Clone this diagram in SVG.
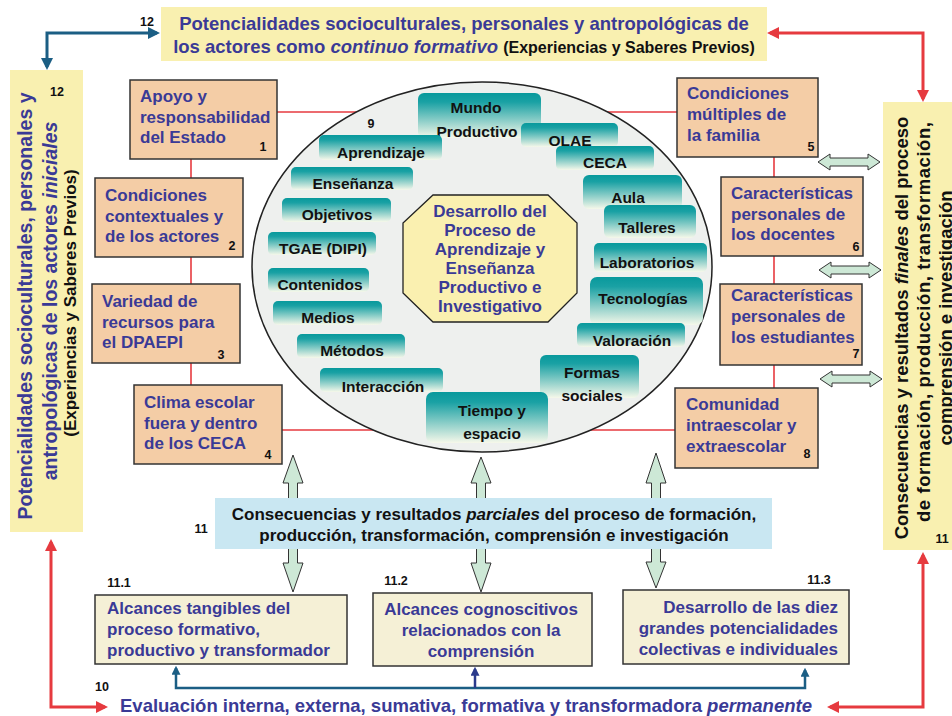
<svg xmlns="http://www.w3.org/2000/svg" width="952" height="716" viewBox="0 0 952 716">
<defs>
<linearGradient id="teal" x1="0" y1="0" x2="0" y2="1">
<stop offset="0" stop-color="#08999c"/>
<stop offset="0.2" stop-color="#1aa1a4"/>
<stop offset="1" stop-color="#f6f8ea"/>
</linearGradient>
<marker id="mRed" viewBox="0 0 12 12" refX="9" refY="6" markerWidth="12" markerHeight="12" markerUnits="userSpaceOnUse" orient="auto-start-reverse"><path d="M0,0 L12,6 L0,12 z" fill="#e63a3f"/></marker>
<marker id="mBlue" viewBox="0 0 12 12" refX="9" refY="6" markerWidth="12" markerHeight="12" markerUnits="userSpaceOnUse" orient="auto-start-reverse"><path d="M0,0 L12,6 L0,12 z" fill="#1b5e84"/></marker>
<marker id="mBlueS" viewBox="0 0 12 12" refX="9" refY="6" markerWidth="9" markerHeight="9" markerUnits="userSpaceOnUse" orient="auto-start-reverse"><path d="M0,0 L12,6 L0,12 z" fill="#1b5e84"/></marker>
<marker id="mNavyS" viewBox="0 0 12 12" refX="9" refY="6" markerWidth="9" markerHeight="9" markerUnits="userSpaceOnUse" orient="auto-start-reverse"><path d="M0,0 L12,6 L0,12 z" fill="#2b3a8c"/></marker>
</defs>
<style>
text{font-family:"Liberation Sans",Arial,Helvetica,sans-serif;font-weight:bold}
.yl{fill:#f9f0b0}
.pk{fill:#f4cda6;stroke:#333;stroke-width:1.5}
.cr{fill:#f5f0d6;stroke:#333;stroke-width:1.5}
.bt{font-size:17px;fill:#3a3a96}
.tb{fill:url(#teal)}
.tl{font-size:15.5px;fill:#111;text-anchor:middle}
.num{font-size:12.5px;fill:#111}
.red{fill:none;stroke:#e63a3f;stroke-width:3}
.rl{fill:none;stroke:#e63a3f;stroke-width:1.6}
.blu{fill:none;stroke:#1b5e84;stroke-width:3}
.blu2{fill:none;stroke:#1b5e84;stroke-width:2.5}
.nav{fill:none;stroke:#2b3a8c;stroke-width:2.5}
.ga{fill:#cde8d6;stroke:#333;stroke-width:1}
</style>
<rect width="952" height="716" fill="#ffffff"/>

<!-- thin red links behind ellipse -->
<g id="links">
<line class="rl" x1="277" y1="112" x2="677" y2="112"/>
<line class="rl" x1="282" y1="430" x2="675" y2="430"/>
<line class="rl" x1="191" y1="159" x2="191" y2="385"/>
<line class="rl" x1="774" y1="157" x2="774" y2="388"/>
</g>

<!-- green double arrows (under blue box) -->
<g id="green-arrows">
<polygon class="ga" points="293,455 303,483 297.5,483 297.5,563 303,563 293,592 283,563 288.5,563 288.5,483 283,483"/>
<polygon class="ga" points="481,457 491,483 485.5,483 485.5,563 491,563 481,592 471,563 476.5,563 476.5,483 471,483"/>
<polygon class="ga" points="656,453 666,483 660.5,483 660.5,562 666,562 656,588 646,562 651.5,562 651.5,483 646,483"/>
<polygon class="ga" points="818,162 830,154 830,158 868,158 868,154 880,162 868,170 868,166 830,166 830,170"/>
<polygon class="ga" points="819,270 831,262 831,266 869,266 869,262 881,270 869,278 869,274 831,274 831,278"/>
<polygon class="ga" points="820,379 832,371 832,375 870,375 870,371 882,379 870,387 870,383 832,383 832,387"/>
</g>

<!-- connectors -->
<g id="connectors">
<path class="blu" d="M47,67 L47,33 L157,33" marker-start="url(#mBlue)" marker-end="url(#mBlue)"/>
<path class="red" d="M770,33 L923,33 L923,99" marker-start="url(#mRed)" marker-end="url(#mRed)"/>
<path class="red" d="M923,555 L923,707 L830,707" marker-start="url(#mRed)" marker-end="url(#mRed)"/>
<path class="red" d="M51,542 L51,707 L105,707" marker-start="url(#mRed)" marker-end="url(#mRed)"/>
<path class="blu2" d="M176,668 L176,688 L805,688 L805,670" marker-start="url(#mBlueS)" marker-end="url(#mBlueS)"/>
<path class="nav" d="M475,688 L475,669" marker-end="url(#mNavyS)"/>
</g>

<!-- top box -->
<g id="top-box">
<rect class="yl" x="161" y="7" width="606" height="54"/>
<text x="464" y="30" font-size="18.5" fill="#3a3a96" text-anchor="middle">Potencialidades socioculturales, personales y antropológicas de</text>
<text x="464" y="53" font-size="18.5" fill="#3a3a96" text-anchor="middle">los actores como <tspan font-style="italic">continuo formativo</tspan> <tspan fill="#111" font-size="16">(Experiencias y Saberes Previos)</tspan></text>
<text class="num" x="147" y="26" text-anchor="middle">12</text>
</g>

<!-- left vertical box -->
<g id="left-box">
<rect class="yl" x="10" y="70" width="73" height="462"/>
<text transform="translate(32,306) rotate(-90)" font-size="19.5" fill="#3a3a96" text-anchor="middle">Potencialidades socioculturales, personales y</text>
<text transform="translate(57,301) rotate(-90)" font-size="19.5" fill="#3a3a96" text-anchor="middle">antropológicas de los actores <tspan font-style="italic">iniciales</tspan></text>
<text transform="translate(76,303) rotate(-90)" font-size="17" fill="#111" text-anchor="middle">(Experiencias y Saberes Previos)</text>
<text class="num" x="57" y="96" text-anchor="middle">12</text>
</g>

<!-- right vertical box -->
<g id="right-box">
<rect class="yl" x="883" y="102" width="75" height="448"/>
<text transform="translate(908,328) rotate(-90)" font-size="18.5" fill="#111" text-anchor="middle">Consecuencias y resultados <tspan font-style="italic">finales</tspan> del proceso</text>
<text transform="translate(930,322) rotate(-90)" font-size="18.5" fill="#111" text-anchor="middle" textLength="400" lengthAdjust="spacing">de formación, producción, transformación,</text>
<text transform="translate(952,318) rotate(-90)" font-size="18.5" fill="#111" text-anchor="middle">comprensión e investigación</text>
<text class="num" x="942" y="543" text-anchor="middle">11</text>
</g>

<!-- central ellipse -->
<g id="ellipse">
<ellipse cx="482" cy="267" rx="230" ry="185" fill="#eef0ee" stroke="#222" stroke-width="1.5"/>
<text class="num" x="371" y="128" text-anchor="middle">9</text>
</g>

<g id="t-mundo"><rect class="tb" x="418" y="93" width="123" height="45" rx="6"/><text class="tl" x="476" y="113">Mundo</text><text class="tl" x="477" y="137">Productivo</text></g>
<g id="t-olae"><rect class="tb" x="521" y="123" width="97" height="24" rx="5"/><text class="tl" x="570" y="146">OLAE</text></g>
<g id="t-ceca"><rect class="tb" x="556" y="146" width="98" height="24" rx="5"/><text class="tl" x="605" y="168">CECA</text></g>
<g id="t-aula"><rect class="tb" x="583" y="175" width="99" height="34" rx="6"/><text class="tl" x="628" y="203">Aula</text></g>
<g id="t-talleres"><rect class="tb" x="604" y="205" width="92" height="33" rx="6"/><text class="tl" x="647" y="233">Talleres</text></g>
<g id="t-laboratorios"><rect class="tb" x="594" y="243" width="113" height="29" rx="5"/><text class="tl" x="647" y="268">Laboratorios</text></g>
<g id="t-tecnologias"><rect class="tb" x="590" y="277" width="113" height="48" rx="7"/><text class="tl" x="643" y="304">Tecnologías</text></g>
<g id="t-valoracion"><rect class="tb" x="577" y="323" width="108" height="24" rx="5"/><text class="tl" x="632" y="346">Valoración</text></g>
<g id="t-formas"><rect class="tb" x="540" y="355" width="99" height="43" rx="6"/><text class="tl" x="592" y="378">Formas</text><text class="tl" x="592" y="401">sociales</text></g>
<g id="t-tiempo"><rect class="tb" x="426" y="392" width="122" height="51" rx="7"/><text class="tl" x="492" y="416">Tiempo y</text><text class="tl" x="492" y="439">espacio</text></g>
<g id="t-aprendizaje"><rect class="tb" x="319" y="135" width="123" height="25" rx="5"/><text class="tl" x="381" y="158">Aprendizaje</text></g>
<g id="t-ensenanza"><rect class="tb" x="291" y="167" width="122" height="23" rx="5"/><text class="tl" x="353" y="189">Enseñanza</text></g>
<g id="t-objetivos"><rect class="tb" x="282" y="198" width="109" height="24" rx="5"/><text class="tl" x="337" y="220">Objetivos</text></g>
<g id="t-tgae"><rect class="tb" x="268" y="232" width="108" height="23" rx="5"/><text class="tl" x="323" y="254">TGAE (DIPI)</text></g>
<g id="t-contenidos"><rect class="tb" x="268" y="268" width="101" height="24" rx="5"/><text class="tl" x="320" y="290">Contenidos</text></g>
<g id="t-medios"><rect class="tb" x="273" y="301" width="109" height="24" rx="5"/><text class="tl" x="328" y="323">Medios</text></g>
<g id="t-metodos"><rect class="tb" x="297" y="334" width="108" height="24" rx="5"/><text class="tl" x="352" y="356">Métodos</text></g>
<g id="t-interaccion"><rect class="tb" x="320" y="368" width="123" height="24" rx="5"/><text class="tl" x="383" y="392">Interacción</text></g>

<g id="octagon">
<polygon points="433,195 548,195 577,223 577,293 548,322 433,322 403,293 403,223" fill="#faf0b0" stroke="#222" stroke-width="1.3"/>
<text class="bt" text-anchor="middle"><tspan x="490" y="217">Desarrollo del</tspan><tspan x="490" y="236">Proceso de</tspan><tspan x="490" y="255">Aprendizaje y</tspan><tspan x="490" y="274">Enseñanza</tspan><tspan x="490" y="293">Productivo e</tspan><tspan x="490" y="312">Investigativo</tspan></text>
</g>

<!-- peach boxes -->
<g id="n1"><rect class="pk" x="130" y="80" width="147" height="79"/><text class="bt"><tspan x="140" y="102">Apoyo y</tspan><tspan x="140" y="123">responsabilidad</tspan><tspan x="140" y="143">del Estado</tspan></text><text class="num" x="263" y="151" text-anchor="middle">1</text></g>
<g id="n2"><rect class="pk" x="95" y="178" width="148" height="79"/><text class="bt"><tspan x="105" y="201">Condiciones</tspan><tspan x="105" y="222">contextuales y</tspan><tspan x="105" y="242">de los actores</tspan></text><text class="num" x="232" y="250" text-anchor="middle">2</text></g>
<g id="n3"><rect class="pk" x="92" y="284" width="148" height="79"/><text class="bt"><tspan x="102" y="307">Variedad de</tspan><tspan x="102" y="328">recursos para</tspan><tspan x="102" y="348">el DPAEPI</tspan></text><text class="num" x="221" y="359" text-anchor="middle">3</text></g>
<g id="n4"><rect class="pk" x="134" y="385" width="148" height="79"/><text class="bt"><tspan x="144" y="408">Clima escolar</tspan><tspan x="144" y="429">fuera y dentro</tspan><tspan x="144" y="449">de los CECA</tspan></text><text class="num" x="268" y="459" text-anchor="middle">4</text></g>
<g id="n5"><rect class="pk" x="677" y="78" width="141" height="79"/><text class="bt"><tspan x="687" y="99">Condiciones</tspan><tspan x="687" y="120">múltiples de</tspan><tspan x="687" y="141">la familia</tspan></text><text class="num" x="811" y="151" text-anchor="middle">5</text></g>
<g id="n6"><rect class="pk" x="721" y="177" width="142" height="79"/><text class="bt"><tspan x="731" y="199">Características</tspan><tspan x="731" y="220">personales de</tspan><tspan x="731" y="240">los docentes</tspan></text><text class="num" x="856" y="251" text-anchor="middle">6</text></g>
<g id="n7"><rect class="pk" x="720" y="284" width="142" height="81"/><text class="bt"><tspan x="731" y="301">Características</tspan><tspan x="731" y="322">personales de</tspan><tspan x="731" y="343">los estudiantes</tspan></text><text class="num" x="856" y="358" text-anchor="middle">7</text></g>
<g id="n8"><rect class="pk" x="675" y="388" width="143" height="80"/><text class="bt"><tspan x="686" y="410">Comunidad</tspan><tspan x="686" y="431">intraescolar y</tspan><tspan x="686" y="452">extraescolar</tspan></text><text class="num" x="807" y="458" text-anchor="middle">8</text></g>

<!-- partial results box -->
<g id="n11">
<rect x="215" y="498" width="557" height="51" fill="#c9e7f2"/>
<text x="494" y="520" font-size="17" fill="#111" text-anchor="middle">Consecuencias y resultados <tspan font-style="italic">parciales</tspan> del proceso de formación,</text>
<text x="494" y="541" font-size="17" fill="#111" text-anchor="middle">producción, transformación, comprensión e investigación</text>
<text class="num" x="201" y="533" text-anchor="middle">11</text>
</g>

<!-- bottom boxes -->
<g id="n11-1"><rect class="cr" x="95" y="595" width="252" height="69"/><text class="bt"><tspan x="107" y="614">Alcances tangibles del</tspan><tspan x="107" y="635">proceso formativo,</tspan><tspan x="107" y="656">productivo y transformador</tspan></text><text class="num" x="119" y="587" text-anchor="middle">11.1</text></g>
<g id="n11-2"><rect class="cr" x="373" y="593" width="219" height="73"/><text class="bt" text-anchor="middle"><tspan x="481" y="615">Alcances cognoscitivos</tspan><tspan x="481" y="636">relacionados con la</tspan><tspan x="481" y="657">comprensión</tspan></text><text class="num" x="396" y="585" text-anchor="middle">11.2</text></g>
<g id="n11-3"><rect class="cr" x="623" y="590" width="226" height="74"/><text class="bt" text-anchor="end"><tspan x="838" y="613">Desarrollo de las diez</tspan><tspan x="838" y="634">grandes potencialidades</tspan><tspan x="838" y="655">colectivas e individuales</tspan></text><text class="num" x="819" y="584" text-anchor="middle">11.3</text></g>

<!-- evaluation -->
<g id="n10">
<text x="120" y="712" font-size="18.5" fill="#3a3a96">Evaluación interna, externa, sumativa, formativa y transformadora <tspan font-style="italic">permanente</tspan></text>
<text class="num" x="102" y="691" text-anchor="middle">10</text>
</g>
</svg>
